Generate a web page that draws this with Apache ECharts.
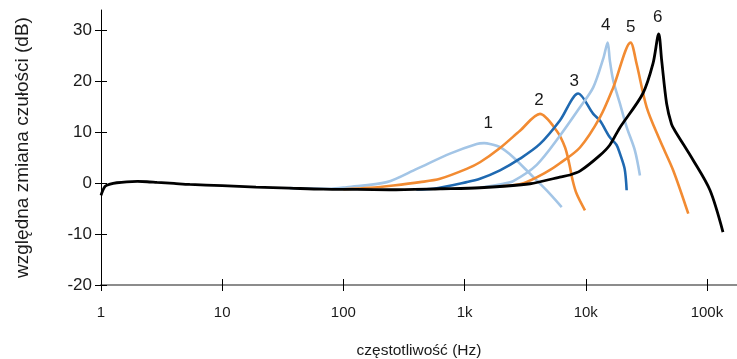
<!DOCTYPE html>
<html><head><meta charset="utf-8">
<script src="https://cdn.jsdelivr.net/npm/echarts@6/dist/echarts.min.js"></script>
<style>html,body{margin:0;padding:0;background:#fff}#c{width:737px;height:359px}</style>
</head><body><div id="c"></div>
<script>
// frequency (Hz), relative sensitivity change (dB)
const curve1 = [[36,-0.98],[78,-1.1],[106,-0.8],[228,0.2],[403,2.8],[758,5.8],[1260,7.7],[1450,7.85],[1620,7.7],[1960,7.06],[2520,5.1],[3470,1.84],[4760,-1.43],[6330,-4.7]];
const curve2 = [[100,-1.2],[166,-0.9],[258,-0.45],[429,0.2],[627,0.86],[1040,2.8],[1340,4.1],[1960,6.9],[2865,10.3],[4190,13.6],[5750,10.3],[6740,7.06],[7310,3.8],[7800,0.53],[8410,-2.1],[9850,-5.35]];
const curve3 = [[400,-1.25],[552,-1.1],[1040,0.2],[1340,0.86],[1960,2.5],[2865,4.8],[4190,7.7],[6120,12.3],[8670,17.6],[11530,13.6],[13090,12.3],[15800,9.0],[17960,7.5],[19150,5.8],[20940,2.8],[21750,-1.4]];
const curve4 = [[1340,-0.9],[2090,-0.1],[2520,0.4],[3940,3.6],[6120,9.3],[8960,14.9],[11530,18.8],[13960,24.5],[15170,27.6],[15800,24.1],[16870,20.1],[19150,15.6],[21750,11.0],[25450,6.4],[28000,1.5]];
const curve5 = [[2000,-0.6],[3055,0.0],[4760,2.2],[6120,3.9],[8960,7.0],[13090,12.9],[16870,18.8],[23450,27.6],[26300,23.4],[31820,14.9],[40940,8.4],[52700,2.5],[70150,-6.0]];
const curve6 = [[1,-2.4],[1.08,-0.65],[1.19,-0.2],[1.35,0.08],[1.63,0.27],[2,0.33],[2.4,0.27],[2.9,0.14],[4,-0.06],[5.4,-0.25],[10,-0.5],[19,-0.78],[36,-0.98],[68,-1.18],[130,-1.24],[240,-1.3],[630,-1.1],[1340,-0.9],[3470,-0.12],[6100,1.2],[7400,1.6],[9000,2.4],[13000,5.4],[15800,7.5],[19000,10.8],[29600,17.6],[35900,23.5],[40000,29.3],[42300,24.1],[46500,15.6],[51000,11.6],[54400,10.3],[77000,4.5],[106000,-1.4],[135600,-9.6]];
const curveNames = ['1','2','3','4','5','6'];
const xTicks = [1,10,100,1000,10000,100000];
const xTickLabels = ['1','10','100','1k','10k','100k'];
const yTicks = [-20,-10,0,10,20,30];
const xTitle = 'częstotliwość (Hz)';
const yTitle = 'względna zmiana czułości (dB)';

const FONT = '"Liberation Sans", Arial, sans-serif';
const chart = echarts.init(document.getElementById('c'), null, {renderer:'canvas'});
const xMap = {}; xTicks.forEach((v,i)=>{ xMap[v] = xTickLabels[i]; });
const curves = [curve1, curve2, curve3, curve4, curve5, curve6];
const colors = ['#a3c5e6','#f28b32','#1f69b1','#a3c5e6','#f28b32','#000000'];
const widths = [2.6,2.6,2.6,2.6,2.6,2.8];
const labelOffsets = [[4,-2],[-1,4],[-4,5],[-2,0],[0,2],[-1,1]];

const series = curves.map((c,i)=>({
  type:'line', name: curveNames[i], data: c, xAxisIndex:0, yAxisIndex:0,
  symbol:'none', smooth:0.3, z: 2+i,
  lineStyle:{color:colors[i], width:widths[i]}, itemStyle:{color:colors[i]},
  markPoint:{
    symbol:'circle', symbolSize:0, silent:true,
    itemStyle:{color:'transparent'},
    label:{show:true, position:'top', distance:9, offset:labelOffsets[i], formatter: curveNames[i],
      fontSize:17, color:'#1a1a1a', fontFamily:FONT},
    data:[{type:'max', valueDim:'y'}]
  }
}));

const xBase = {type:'log', logBase:10, min:1, max:177000, gridIndex:0, position:'bottom'};
const yBase = {type:'value', min:-20, max:34, interval:10, gridIndex:0, position:'left'};

chart.setOption({
  animation:false,
  grid:{left:101, right:0, top:10, bottom:74, containLabel:false, outerBoundsMode:'none'},
  xAxis:[
    Object.assign({}, xBase, {
      name: xTitle, nameLocation:'middle', nameGap:58,
      nameTextStyle:{fontSize:15.5, color:'#1a1a1a', fontFamily:FONT},
      axisLine:{show:true, onZero:false, lineStyle:{color:'#8c8c8c', width:2}},
      axisTick:{show:true, inside:false, length:6, customValues:xTicks, lineStyle:{color:'#000', width:1}},
      minorTick:{show:false}, splitLine:{show:false},
      axisLabel:{show:true, margin:20, customValues:xTicks, fontSize:15, color:'#1a1a1a', fontFamily:FONT,
        formatter:(v)=> xMap[v] !== undefined ? xMap[v] : ''}
    }),
    Object.assign({}, xBase, {
      axisLine:{show:false, onZero:false},
      axisTick:{show:true, inside:true, length:6, customValues:xTicks, lineStyle:{color:'#000', width:1}},
      axisLabel:{show:false}, splitLine:{show:false}
    })
  ],
  yAxis:[
    Object.assign({}, yBase, {
      name: yTitle, nameLocation:'middle', nameGap:69, nameRotate:90,
      nameTextStyle:{fontSize:19, color:'#1a1a1a', fontFamily:FONT},
      axisLine:{show:true, onZero:false, lineStyle:{color:'#000', width:1}},
      axisTick:{show:true, inside:false, length:6, customValues:yTicks, lineStyle:{color:'#000', width:1}},
      splitLine:{show:false},
      axisLabel:{show:true, margin:9, customValues:yTicks, fontSize:17, color:'#1a1a1a', fontFamily:FONT}
    }),
    Object.assign({}, yBase, {
      axisLine:{show:false, onZero:false},
      axisTick:{show:true, inside:true, length:6, customValues:yTicks, lineStyle:{color:'#000', width:1}},
      axisLabel:{show:false}, splitLine:{show:false}
    })
  ],
  series: series
});
</script></body></html>
